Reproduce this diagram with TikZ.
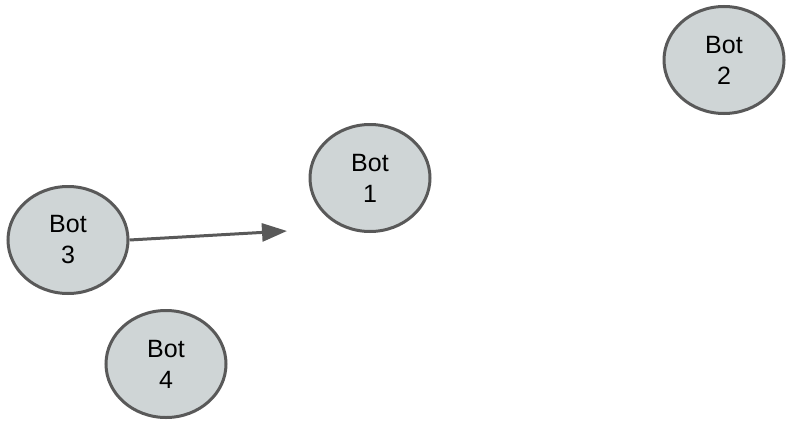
\documentclass[tikz,border=0pt]{standalone}
\usepackage{fontspec}
\setmainfont{Liberation Sans}
\usetikzlibrary{shapes.geometric,arrows.meta}
\definecolor{botfill}{RGB}{207,213,214}
\definecolor{botline}{RGB}{89,89,89}
\begin{document}
\begin{tikzpicture}[x=1pt,y=-1pt,
  bot/.style={ellipse, draw=botline, fill=botfill, line width=3pt,
    minimum width=120pt, minimum height=107pt, inner sep=0pt,
    align=center, font=\fontsize{25}{31}\selectfont},
  link/.style={draw=botline, line width=3pt, -{Triangle[length=25pt,width=18pt]}}]
\useasboundingbox (0,0) rectangle (786,423);
\node[bot] (b2) at (724,60) {Bot\\2};
\node[bot] (b1) at (370,178) {Bot\\1};
\node[bot] (b3) at (68,240) {Bot\\3};
\node[bot] (b4) at (166,364) {Bot\\4};
\coordinate (tip) at (287,231);
\draw[link] (b3.east) -- (tip);
\end{tikzpicture}
\end{document}
